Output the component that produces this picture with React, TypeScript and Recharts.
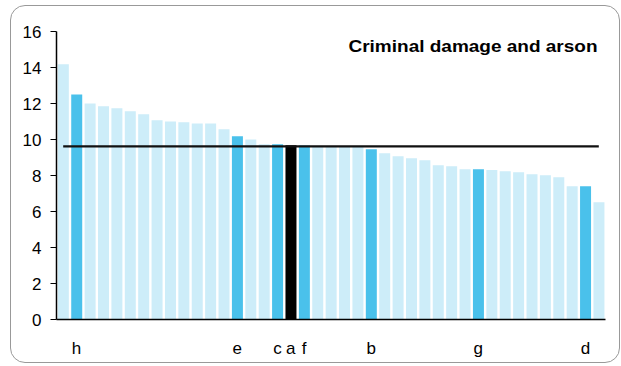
import React from "react";
import { ComposedChart, Bar, Line, XAxis, YAxis, Cell, Customized } from "recharts";

const values = [
  14.18, 12.5, 12.0, 11.85, 11.74, 11.57, 11.4, 11.07, 11.0, 10.96, 10.89, 10.89, 10.57,
  10.18, 10.0, 9.74, 9.74, 9.68, 9.67, 9.6, 9.59, 9.58, 9.58, 9.46, 9.24, 9.07, 8.96,
  8.85, 8.57, 8.52, 8.35, 8.35, 8.3, 8.24, 8.18, 8.07, 8.02, 7.9, 7.4, 7.4, 6.52,
];
const labels = [
  "", "h", "", "", "", "", "", "", "", "", "", "", "",
  "e", "", "", "c", "a", "f", "", "", "", "", "b", "", "", "",
  "", "", "", "", "g", "", "", "", "", "", "", "", "d", "",
];
const average = 9.62;
const yTicks = [0, 2, 4, 6, 8, 10, 12, 14, 16];
const title = "Criminal damage and arson";

const LIGHT = "#CDEDF9";
const DARK = "#4AC1EB";
const BLACK = "#000000";

const data = values.map((v, i) => ({ idx: i, value: v, avg: average, label: labels[i] }));

const colorFor = (i: number) => (labels[i] === "a" ? BLACK : labels[i] ? DARK : LIGHT);

const XTick = (props: any) => {
  const { x, y, payload } = props;
  const lbl = labels[payload.value];
  if (!lbl) return null;
  return (
    <text x={x} y={y + 34} textAnchor="middle" fontSize={17} fontFamily="'Liberation Sans', Arial, sans-serif" fill="#000">
      {lbl}
    </text>
  );
};

const Title = () => (
  <text
    x={348.5}
    y={51.5}
    fontSize={17}
    fontWeight="bold"
    fontFamily="'Liberation Sans', Arial, sans-serif"
    fill="#000"
    textLength={249}
    lengthAdjust="spacingAndGlyphs"
  >
    {title}
  </text>
);

export default function App() {
  return (
    <div style={{ position: "absolute", left: 0, top: 0, width: 621, height: 366, background: "#fff" }}>
      <div
        style={{
          position: "absolute",
          left: 10,
          top: 5,
          width: 610,
          height: 358,
          border: "1.5px solid #999999",
          borderRadius: 15,
          boxSizing: "border-box",
        }}
      />
      <div style={{ position: "absolute", left: 0, top: 0 }}>
        <ComposedChart
          width={621}
          height={366}
          data={data}
          margin={{ top: 31.5, right: 15.5, left: 0, bottom: 16.5 }}
          barCategoryGap="10%"
        >
          <XAxis
            dataKey="idx"
            type="category"
            interval={0}
            tickLine={false}
            tickSize={0}
            tickMargin={0}
            height={30}
            axisLine={{ stroke: "#000", strokeWidth: 1.5 }}
            tick={<XTick />}
          />
          <YAxis
            domain={[0, 16]}
            ticks={yTicks}
            width={56.5}
            tickSize={6}
            tickMargin={9}
            axisLine={{ stroke: "#000", strokeWidth: 1.5 }}
            tickLine={{ stroke: "#000" }}
            tick={{ fill: "#000", fontSize: 17, fontFamily: "'Liberation Sans', Arial, sans-serif" }}
            interval={0}
          />
          <Bar dataKey="value" isAnimationActive={false}>
            {data.map((d, i) => (
              <Cell key={i} fill={colorFor(i)} />
            ))}
          </Bar>
          <Line
            dataKey="avg"
            type="linear"
            stroke="#111"
            strokeWidth={2.2}
            dot={false}
            activeDot={false}
            isAnimationActive={false}
          />
          <Customized component={Title} />
        </ComposedChart>
      </div>
    </div>
  );
}
